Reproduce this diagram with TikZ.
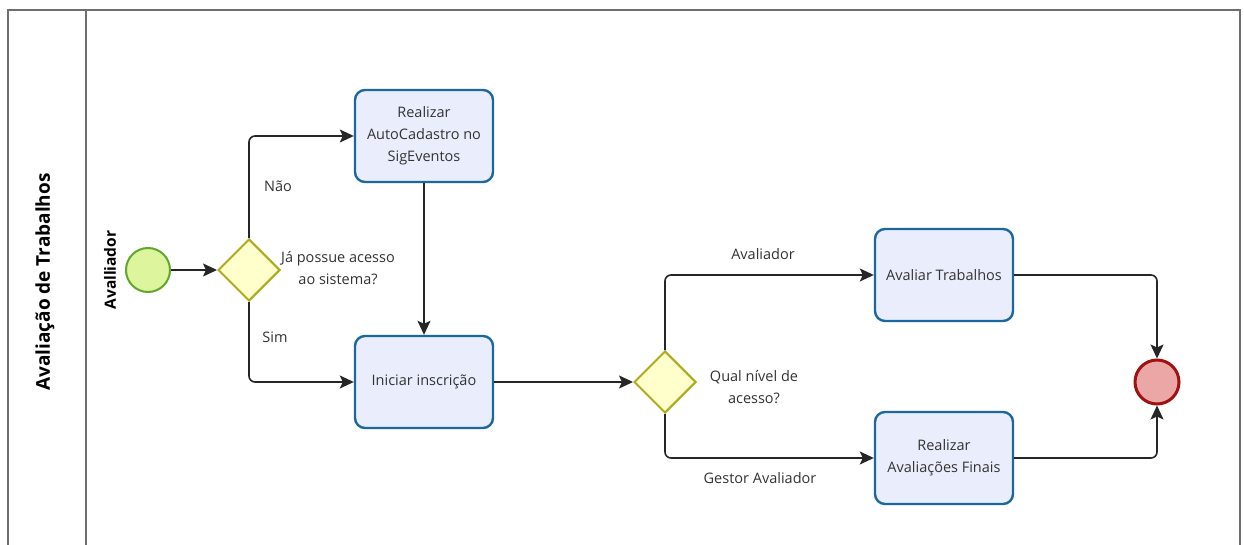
\documentclass[tikz,border=0pt]{standalone}
\usepackage{fontspec}
\setmainfont{Open Sans}
\usetikzlibrary{shapes.geometric,arrows.meta}
\definecolor{taskfill}{HTML}{EAEEFC}
\definecolor{taskdraw}{HTML}{1D679F}
\definecolor{gwfill}{HTML}{FFFFCC}
\definecolor{gwdraw}{HTML}{ABAB1E}
\definecolor{stfill}{HTML}{DDF59C}
\definecolor{stdraw}{HTML}{5FA82A}
\definecolor{endfill}{HTML}{EBA6A6}
\definecolor{enddraw}{HTML}{A01212}
\definecolor{txt}{HTML}{333333}
\definecolor{frame}{HTML}{6E6E6E}
\tikzset{
  task/.style={draw=taskdraw, fill=taskfill, line width=2.4pt, rounded corners=10pt,
    minimum width=138pt, minimum height=92pt, align=center, text=txt,
    font=\fontsize{14.5}{22}\selectfont, inner sep=2pt},
  gateway/.style={diamond, draw=gwdraw, fill=gwfill, line width=2pt, minimum width=62pt,
    minimum height=62pt, inner sep=0pt},
  startev/.style={circle, draw=stdraw, fill=stfill, line width=2pt, minimum size=44pt, inner sep=0pt},
  endev/.style={circle, draw=enddraw, fill=endfill, line width=3pt, minimum size=44pt, inner sep=0pt},
  flow/.style={draw=black!85, line width=1.6pt, rounded corners=6pt,
    -{Stealth[length=14pt,width=13pt,inset=3pt]}},
  lbl/.style={text=txt, font=\fontsize{14.5}{22}\selectfont, align=center, inner sep=0pt},
}
\begin{document}
\begin{tikzpicture}[x=1pt,y=-1pt]
\useasboundingbox (0,0) rectangle (1244,545);
\fill[white] (0,0) rectangle (1244,545);
% pool frame
\draw[frame, line width=1.5pt] (8,545) -- (8,10) -- (1240,10) -- (1240,545);
\draw[frame, line width=1.5pt] (86,10) -- (86,545);
\node[rotate=90, font=\bfseries\fontsize{19}{22}\selectfont, text=black] (pool) at (45,282) {Avaliação de Trabalhos};
\node[rotate=90, font=\bfseries\fontsize{15.5}{18}\selectfont, text=black] (lane) at (110,270) {Avalliador};
% nodes
\node[startev] (s) at (148,270) {};
\node[gateway] (g1) at (249,270) {};
\node[task] (ta) at (424,136) {Realizar\\AutoCadastro no\\SigEventos};
\node[task] (tb) at (424,382) {Iniciar inscrição};
\node[gateway] (g2) at (665,382) {};
\node[task] (tc) at (944,275) {Avaliar Trabalhos};
\node[task] (td) at (944,458) {Realizar\\Avaliações Finais};
\node[endev] (e) at (1157,382) {};
% labels
\node[lbl] (l1) at (338,268) {Já possue acesso\\ao sistema?};
\node[lbl] (lnao) at (278,186) {Não};
\node[lbl] (lsim) at (275,337) {Sim};
\node[lbl] (l2) at (754,387) {Qual nível de\\acesso?};
\node[lbl] (lav) at (763,254) {Avaliador};
\node[lbl] (lga) at (760,478) {Gestor Avaliador};
% flows
\draw[flow] (s) -- (g1);
\draw[flow] (g1.north) |- (ta.west);
\draw[flow] (g1.south) |- (tb.west);
\draw[flow] (ta) -- (tb);
\draw[flow] (tb) -- (g2);
\draw[flow] (g2.north) |- (tc.west);
\draw[flow] (g2.south) |- (td.west);
\draw[flow] (tc.east) -| (e.north);
\draw[flow] (td.east) -| (e.south);
\end{tikzpicture}
\end{document}
